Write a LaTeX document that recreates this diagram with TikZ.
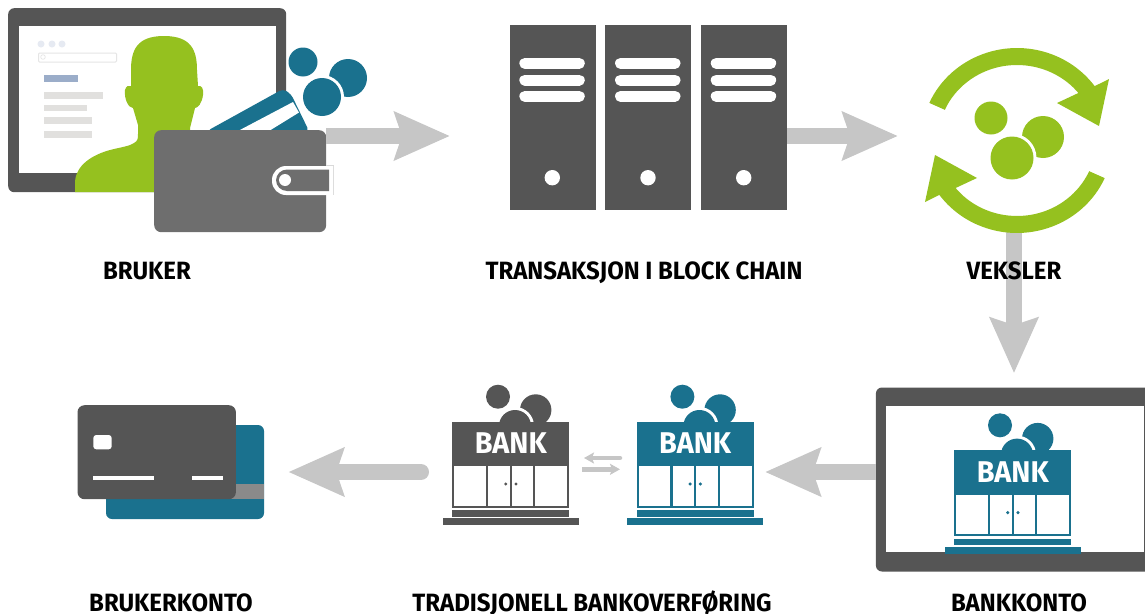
\documentclass[tikz,border=0pt]{standalone}
\usepackage{fontspec}
\setmainfont{Fira Sans}[FakeStretch = 0.96]
\usetikzlibrary{arrows.meta}
\definecolor{darkGrey}{HTML}{555555}
\definecolor{walletGrey}{HTML}{6E6E6E}
\definecolor{arrowGrey}{HTML}{C6C6C6}
\definecolor{bankTeal}{HTML}{1A718E}
\definecolor{userGreen}{HTML}{95C11F}
\definecolor{uiGrey}{HTML}{E1E0DE}
\definecolor{uiBlue}{HTML}{9BADC9}
\definecolor{uiDot}{HTML}{E6EAF2}
\newcommand{\bankIcon}[4]{
\begin{scope}[shift = {(#2,#3)}]
\fill[#4] (45.7,-25) circle (12);
\fill[#4] (83.4,-11.7) circle (15.7);
\fill[white] (62.7,4.3) circle (19);
\fill[#4] (62.7,4.3) circle (16);
\node[bankHeadStyle, fill = #4] (#1) at (58.5,21.65) {BANK};
\fill[#4] (0,43.3) rectangle (117,86);
\foreach \wl/\wr in {2/33.7, 36/57.7, 59.4/81, 83/115}
  \fill[white] (\wl,44.5) rectangle (\wr,84);
\fill[#4] (53.4,62.3) circle (1.7);
\fill[#4] (63.7,62.3) circle (1.7);
\fill[#4] (0,88.3) rectangle (117,95);
\fill[#4] (-9.6,96.6) rectangle (126.4,103.3);
\end{scope}
}
\begin{document}
\begin{tikzpicture}[x = 1pt, y = -1pt]
\tikzstyle{flowStyle} = [draw = arrowGrey, line width = 16pt, -{Stealth[length = 55pt, width = 47pt, inset = 7pt]}]
\tikzstyle{swapStyle} = [draw = arrowGrey, line width = 4.5pt, -{Stealth[length = 10pt, width = 11pt, inset = 2pt]}]
\tikzstyle{screenStyle} = [shape = rectangle, rounded corners = 6pt, fill = darkGrey, inner sep = 0pt, anchor = north west]
\tikzstyle{serverStyle} = [shape = rectangle, fill = darkGrey, minimum width = 86pt, minimum height = 184.3pt, inner sep = 0pt, anchor = north west]
\tikzstyle{barStyle} = [line width = 11pt, line cap = round, draw = white]
\tikzstyle{titleStyle} = [anchor = base, inner sep = 0pt, font = \fontsize{25}{25}\selectfont\bfseries]
\tikzstyle{bankHeadStyle} = [shape = rectangle, minimum width = 117pt, minimum height = 43.3pt, inner sep = 0pt, text = white, font = \fontsize{30}{30}\selectfont\bfseries]
\useasboundingbox (0,0) rectangle (1145,613);
\coordinate (tipWallet) at (450,136);
\coordinate (tipServer) at (898,136);
\coordinate (tailConvert) at (1014,225);
\coordinate (tipConvert) at (1014,373.3);
\coordinate (tipScreen) at (765,472);
\coordinate (tailBank) at (421,472);
\coordinate (tipBank) at (288.3,472);
\node[screenStyle, minimum width = 278pt, minimum height = 184pt] (screenUser) at (8,8) {};
\fill[white] (19,26) rectangle (276,173);
\foreach \dx in {41,52,62}
  \fill[uiDot] (\dx,44) circle (3.5);
\draw[black!10, line width = 1pt, rounded corners = 1pt] (38.5,53) rectangle (116.5,62);
\draw[black!10, line width = 0.7pt] (43,57) circle (2.3);
\fill[uiBlue] (44,75) rectangle (78,82);
\foreach \by/\bx in {92/103, 104.5/87, 117/92, 131/92}
  \fill[uiGrey] (44,\by) rectangle (\bx,\by+6.5);
\fill[userGreen] (75,192) -- (75,182) .. controls (76,165) and (92,155) .. (110,150) .. controls (122,147) and (130,146) .. (134,143) .. controls (138,141) and (138,138) .. (138,134) -- (138,125) -- (133,108) .. controls (128,108) and (124,98) .. (125,90) .. controls (126,86) and (129,85) .. (131,86) -- (131,70) .. controls (131,50) and (137,36) .. (164,36) .. controls (191,36) and (197,50) .. (197,70) -- (198,86) .. controls (201,85) and (204,88) .. (203,95) .. controls (202,103) and (198,108) .. (195,108) -- (190,128) -- (190,192) -- cycle;
\fill[bankTeal, rounded corners = 4pt] (207,131) -- (283,89) -- (291,94) -- (309,131) -- cycle;
\fill[white] (238,131) -- (293,102) -- (299,112.5) -- (269,131) -- cycle;
\fill[bankTeal] (303,62) circle (14.5);
\fill[bankTeal] (348,78) circle (19);
\fill[white] (322,97) circle (22);
\fill[bankTeal] (322,97) circle (19);
\node[shape = rectangle, rounded corners = 7pt, fill = walletGrey, minimum width = 172pt, minimum height = 102pt, inner sep = 0pt, anchor = north west] (wallet) at (154,130) {};
\draw[flowStyle] (wallet.east |- tipWallet) -- (tipWallet);
\draw[black!15, line width = 0.6pt] (326,165.7) -- (333.3,165.7) -- (333.3,195);
\fill[white] (333,166) [rounded corners = 14pt] -- (272,166) -- (272,195) [sharp corners] -- (333,195) -- cycle;
\fill[walletGrey] (329,169.5) [rounded corners = 11pt] -- (276,169.5) -- (276,191) [sharp corners] -- (329,191) -- cycle;
\fill[white] (285,180) circle (6);
\foreach \sx/\sname in {509.3/serverA, 605/serverB, 700.7/serverC} {
  \node[serverStyle] (\sname) at (\sx,25) {};
  \foreach \sy in {63.3,80,96.3}
    \draw[barStyle] (\sx+15.5,\sy) -- (\sx+70,\sy);
  \fill[white] (\sx+43,177.7) circle (7.7);
}
\draw[flowStyle] (serverC.east |- tipServer) -- (tipServer);
\draw[flowStyle] (tailConvert) -- (tipConvert);
\coordinate (veksler) at (1017,140.5);
\foreach \ang in {0,180} {
  \begin{scope}[shift = {(veksler)}, rotate = \ang]
  \fill[userGreen] (-87.7,-37.6) arc[start angle = -156, end angle = -36, x radius = 96, y radius = 92.5] -- (92,-61.5) -- (82,-14.5) -- (40,-37.5) -- (61.4,-47.5) arc[start angle = -39, end angle = -156, x radius = 79, y radius = 75.5] -- cycle;
  \end{scope}
}
\fill[userGreen] (991,118) circle (16.5);
\fill[userGreen] (1043,137) circle (21);
\fill[white] (1012,158) circle (24.5);
\fill[userGreen] (1012,158) circle (21.5);
\node[screenStyle, minimum width = 280pt, minimum height = 184pt] (screenBank) at (875.7,387.3) {};
\fill[white] (886,405.7) rectangle (1144,552);
\draw[flowStyle] (screenBank.west |- tipScreen) -- (tipScreen);
\draw[flowStyle, line cap = round] (tailBank) -- (tipBank);
\bankIcon{bankUser}{452.3}{421.7}{darkGrey}
\bankIcon{bankMid}{636.7}{421.7}{bankTeal}
\bankIcon{bankEnd}{954.3}{450.3}{bankTeal}
\coordinate (swapTailA) at (620,458);
\coordinate (swapTipA) at (584,458);
\coordinate (swapTailB) at (582,469.3);
\coordinate (swapTipB) at (620,469.3);
\draw[swapStyle, line cap = round] (swapTailA) -- (swapTipA);
\draw[swapStyle] (swapTailB) -- (swapTipB);
\fill[bankTeal, rounded corners = 6pt] (106,425) rectangle (264,519);
\fill[black!46] (106,484) rectangle (264,499);
\node[shape = rectangle, rounded corners = 7pt, fill = darkGrey, minimum width = 158.4pt, minimum height = 94pt, inner sep = 0pt, anchor = north west] (cardFront) at (77.3,405) {};
\fill[white, rounded corners = 3pt] (93.3,435) rectangle (111.7,449.3);
\fill[white] (93.3,476.3) rectangle (154,480);
\fill[white] (191.7,476.3) rectangle (222.7,480);
\node[titleStyle] (labelUser) at (147,279.5) {BRUKER};
\node[titleStyle] (labelChain) at (644,279.5) {TRANSAKSJON I BLOCK CHAIN};
\node[titleStyle] (labelConvert) at (1014,279.5) {VEKSLER};
\node[titleStyle] (labelAccount) at (171,611) {BRUKERKONTO};
\node[titleStyle] (labelTransfer) at (592,611) {TRADISJONELL BANKOVERFØRING};
\node[titleStyle] (labelBank) at (1019,611) {BANKKONTO};
\end{tikzpicture}
\end{document}
